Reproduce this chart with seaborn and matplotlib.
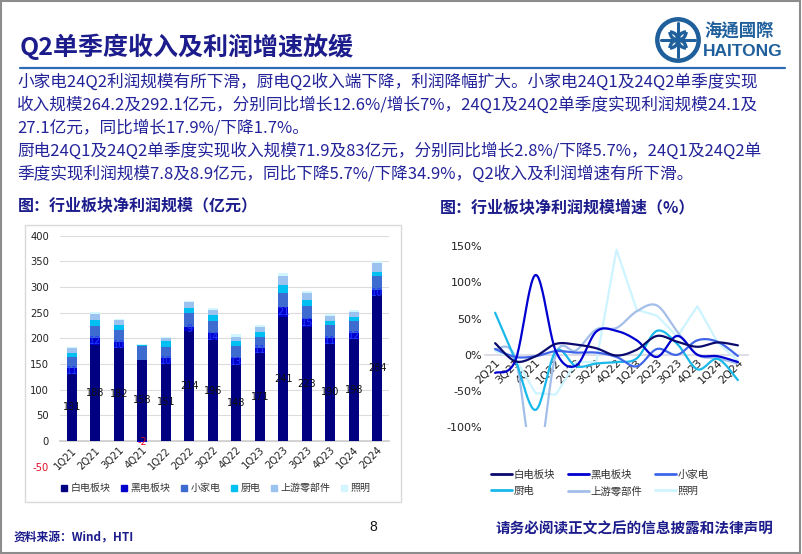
import numpy as np
import pandas as pd
import matplotlib
matplotlib.use("Agg")
import matplotlib.pyplot as plt
import seaborn as sns
from matplotlib.patches import Rectangle, Circle, Arc
from matplotlib.lines import Line2D

sns.set_theme(style="white")
plt.rcParams['font.family'] = ['Noto Sans CJK SC', 'DejaVu Sans']
plt.rcParams['axes.unicode_minus'] = False

# ---------------- data ----------------
quarters = ["1Q21", "2Q21", "3Q21", "4Q21", "1Q22", "2Q22", "3Q22", "4Q22",
            "1Q23", "2Q23", "3Q23", "4Q23", "1Q24", "2Q24"]
series_names = ["白电板块", "黑电板块", "小家电", "厨电", "上游零部件", "照明"]
white_goods = [131, 188, 182, 158, 151, 214, 196, 148, 171, 241, 223, 190, 198, 284]
black_goods = [11, 12, 10, -2, 10, 9, 14, 13, 11, 21, 15, 11, 12, 10]
small_appl = [22, 24, 24, 27, 23, 26, 24, 25, 21, 27, 25, 25, 24, 27]
kitchen = [8, 12, 10, 2, 10, 11, 12, 8, 9, 15, 12, 7, 8, 9]
upstream = [9, 12, 9, 1, 6, 10, 9, 9, 11, 18, 13, 11, 10, 16]
lighting = [3, 4, 3, 1, 2, 3, 4, 5, 3, 6, 4, 3, 3, 5]

growth_quarters = quarters[1:]
g_white = [16, -9, -2, 15, 14, 9, -1, 7, 26, 18, 11, 17, 13]
g_black = [-25, -8, 110, 5, -15, 32, 33, 20, -3, 26, 0, -2, -10]
g_small = [8, -3, -2, 5, 3, 3, -3, -16, 8, 0, 20, 17.9, -1.7]
g_kitchen = [58, -7, -76, 5, -16, -12, -10, -5, 33, 15, -20, -5.7, -34.9]
g_upstream = [8, -5, -160, 0, 6, 35, 37, 60, 68, 32, 0, -5, -12]
g_lighting = [5, -5, -53, -55, -10, -10, 145, 62, 54, 25, 67, 17, -8]

bar_colors = ["#000080", "#0000cc", "#3d6bd0", "#00c0f2", "#9cc3f0", "#d2f6ff"]
line_colors = ["#0a0a6e", "#0000d0", "#3f66e8", "#19b8ea", "#a3bfe9", "#cdf4ff"]
navy = "#1c1c8c"

W, H = 802, 554
fig = plt.figure(figsize=(W / 100, H / 100), dpi=100)


def fx(x):
    return x / W


def fy(y):
    return 1 - y / H


# slide border
fig.patches.append(Rectangle((0.001, 0.002), 0.997, 0.996, transform=fig.transFigure,
                             fill=False, edgecolor="#8c8c8c", lw=1.5, zorder=-2))

# title
fig.text(fx(20), fy(47), "Q2单季度收入及利润增速放缓", fontsize=18, fontweight="bold",
         color=navy, va="center", ha="left")
fig.add_artist(Line2D([fx(20), fx(785)], [fy(68), fy(68)], transform=fig.transFigure,
                      color="#2e6db4", lw=1.6))

# logo
lax = fig.add_axes([fx(655), fy(63), fx(46), 46 / H])
lax.set_xlim(-1, 1); lax.set_ylim(-1, 1); lax.set_aspect("equal"); lax.axis("off")
logo_c = "#1f5f9c"
lax.add_patch(Circle((0, 0), 0.9, fill=False, lw=3.2, edgecolor=logo_c))
lax.add_patch(Circle((0, 0), 0.12, color=logo_c))
for ang in [0, 90, 180, 270]:
    lax.add_patch(Arc((0.35 * np.cos(np.radians(ang)), 0.35 * np.sin(np.radians(ang))),
                      0.7, 0.7, theta1=ang + 90, theta2=ang + 270, lw=2.4, color=logo_c))
lax.plot([-0.75, 0.75], [0, 0], color=logo_c, lw=2.2)
lax.plot([0, 0], [-0.75, 0.75], color=logo_c, lw=2.2)
fig.text(fx(704), fy(32), "海通國際", fontsize=12.5, fontweight="bold", color=logo_c,
         va="center", ha="left", family=["Noto Sans CJK TC", "DejaVu Sans"])
fig.text(fx(703), fy(51), "HAITONG", fontsize=12.5, fontweight="bold", color=logo_c,
         va="center", ha="left", family=["Liberation Sans", "DejaVu Sans"])

# paragraph
para = [
    "小家电24Q2利润规模有所下滑，厨电Q2收入端下降，利润降幅扩大。小家电24Q1及24Q2单季度实现",
    "收入规模264.2及292.1亿元，分别同比增长12.6%/增长7%，24Q1及24Q2单季度实现利润规模24.1及",
    "27.1亿元，同比增长17.9%/下降1.7%。",
    "厨电24Q1及24Q2单季度实现收入规模71.9及83亿元，分别同比增长2.8%/下降5.7%，24Q1及24Q2单",
    "季度实现利润规模7.8及8.9亿元，同比下降5.7%/下降34.9%，Q2收入及利润增速有所下滑。",
]
for i, line in enumerate(para):
    fig.text(fx(17), fy(82 + 23 * i), line, fontsize=12, color="#23239a", va="center", ha="left")

# subtitles
fig.text(fx(18), fy(205), "图：行业板块净利润规模（亿元）", fontsize=11.5, fontweight="bold",
         color=navy, va="center", ha="left")
fig.text(fx(440), fy(208), "图：行业板块净利润规模增速（%）", fontsize=11.5, fontweight="bold",
         color=navy, va="center", ha="left")

# left panel box
fig.patches.append(Rectangle((fx(25), fy(502)), fx(376), 277 / H, transform=fig.transFigure,
                             facecolor="white", edgecolor="#d9d9d9", lw=1, zorder=-1))

# ---------------- bar chart ----------------
ax = fig.add_axes([fx(60), fy(466.7), fx(329), 231 / H])
ax.set_zorder(2)
ax.set_facecolor("none")
vals = [white_goods, black_goods, small_appl, kitchen, upstream, lighting]
pos_base = np.zeros(len(quarters))
neg_base = np.zeros(len(quarters))
bar_bottoms = []
for name, v, c in zip(series_names, vals, bar_colors):
    v = np.array(v, dtype=float)
    bottom = np.where(v >= 0, pos_base, neg_base)
    bar_bottoms.append(bottom.copy())
    df = pd.DataFrame({"q": quarters, "v": v})
    sns.barplot(data=df, x="q", y="v", color=c, bottom=bottom, width=0.43,
                saturation=1, ax=ax, errorbar=None, linewidth=0, zorder=3)
    pos_base = pos_base + np.where(v >= 0, v, 0)
    neg_base = neg_base + np.where(v < 0, v, 0)

for i in range(len(quarters)):
    ax.text(i, white_goods[i] / 2, str(white_goods[i]), ha="center", va="center",
            fontsize=7, color="#111111", family="DejaVu Sans", zorder=5)
    b = black_goods[i]
    if b >= 0:
        ax.text(i, bar_bottoms[1][i] + b / 2, str(b), ha="center", va="center",
                fontsize=7, color="#1f3cff", family="DejaVu Sans", zorder=5)
    else:
        ax.text(i, b / 2 - 1, str(b), ha="center", va="center",
                fontsize=7, color="#e0102a", family="DejaVu Sans", zorder=5)

ax.set_ylim(-50, 400)
ax.set_xlim(-0.5, len(quarters) - 0.5)
ax.set_yticks(np.arange(-50, 401, 50))
ax.set_yticklabels([str(t) for t in range(-50, 401, 50)])
ax.yaxis.grid(True, color="#dcdcdc", lw=0.8, zorder=0)
ax.set_axisbelow(True)
for s in ["top", "right", "left"]:
    ax.spines[s].set_visible(False)
ax.spines["bottom"].set_position(("data", 0))
ax.spines["bottom"].set_color("#d0d0d0")
ax.set_xlabel(""); ax.set_ylabel("")
ax.tick_params(axis="both", length=0)
ax.tick_params(axis="y", pad=8)
ax.set_xticks(range(len(quarters)))
ax.set_xticklabels(quarters, rotation=45, ha="right", rotation_mode="anchor",
                   fontsize=7.2, family="DejaVu Sans", color="#222222")
ax.tick_params(axis="x", pad=3)
for lab in ax.get_yticklabels():
    lab.set_fontsize(7.2); lab.set_family("DejaVu Sans")
    lab.set_color("#e0102a" if lab.get_text().startswith("-") else "#222222")

handles = [Line2D([], [], marker="s", ls="none", markersize=4.5, color=c) for c in bar_colors]
fig.legend(handles, series_names, loc="center", bbox_to_anchor=(fx(215), fy(488)), ncol=6,
           frameon=False, fontsize=7.2, handlelength=0.8, handletextpad=0.3,
           columnspacing=0.9, labelcolor="#333333")

# ---------------- line chart ----------------
def smooth(xs, ys, n=24):
    pts = np.column_stack([xs, ys]).astype(float)
    out = []
    for i in range(len(pts) - 1):
        p0 = pts[i - 1] if i > 0 else pts[i]
        p1, p2 = pts[i], pts[i + 1]
        p3 = pts[i + 2] if i + 2 < len(pts) else pts[i + 1]
        c1 = p1 + (p2 - p0) / 6
        c2 = p2 - (p3 - p1) / 6
        t = np.linspace(0, 1, n)[:, None]
        seg = (1 - t) ** 3 * p1 + 3 * (1 - t) ** 2 * t * c1 + 3 * (1 - t) * t ** 2 * c2 + t ** 3 * p2
        out.append(seg if i == 0 else seg[1:])
    return np.vstack(out)


lx = fig.add_axes([fx(485), fy(427.3), fx(263), 181.3 / H])
lx.set_facecolor("none")
gvals = [g_white, g_black, g_small, g_kitchen, g_upstream, g_lighting]
xs = np.arange(len(growth_quarters))
for k in [5, 4, 3, 2, 1, 0]:
    if k == 5:
        pts = np.column_stack([xs, gvals[k]])
    else:
        pts = smooth(xs, gvals[k])
    sns.lineplot(x=pts[:, 0], y=pts[:, 1], sort=False, estimator=None, color=line_colors[k],
                 lw=1.6, ax=lx, zorder=3 + (5 - k))

lx.set_ylim(-100, 150)
lx.set_xlim(-0.5, len(growth_quarters) - 0.5)
lx.set_yticks([-100, -50, 0, 50, 100, 150])
lx.set_yticklabels([f"{v}%" for v in [-100, -50, 0, 50, 100, 150]], fontsize=8,
                   family="DejaVu Sans", color="#222222")
for s in ["top", "right", "left"]:
    lx.spines[s].set_visible(False)
lx.spines["bottom"].set_position(("data", 0))
lx.spines["bottom"].set_color("#d8d8e4")
lx.spines["bottom"].set_zorder(1)
lx.set_xticks(xs)
lx.set_xticklabels(growth_quarters, rotation=45, ha="right", rotation_mode="anchor",
                   fontsize=8, family="DejaVu Sans", color="#222222")
lx.tick_params(axis="both", length=0)
lx.tick_params(axis="x", pad=2)
lx.tick_params(axis="y", pad=2)
lx.grid(False)

lhandles = [Line2D([], [], color=c, lw=2) for c in line_colors]
lorder = [0, 3, 1, 4, 2, 5]
fig.legend([lhandles[i] for i in lorder], [series_names[i] for i in lorder], loc="center",
           bbox_to_anchor=(fx(600), fy(483)), ncol=3, frameon=False, fontsize=7.5,
           handlelength=2.0, handletextpad=0.2, columnspacing=1.2, labelspacing=0.6,
           labelcolor="#333333")

# footer
fig.text(fx(14), fy(538), "资料来源：Wind，HTI", fontsize=8.5, fontweight="bold", color=navy,
         va="center", ha="left")
fig.text(fx(373), fy(527), "8", fontsize=10, color="#111111", va="center", ha="center",
         family="Liberation Sans")
fig.text(fx(496), fy(528), "请务必阅读正文之后的信息披露和法律声明", fontsize=10.5,
         fontweight="bold", color=navy, va="center", ha="left")

fig.savefig("out.png", dpi=100)
